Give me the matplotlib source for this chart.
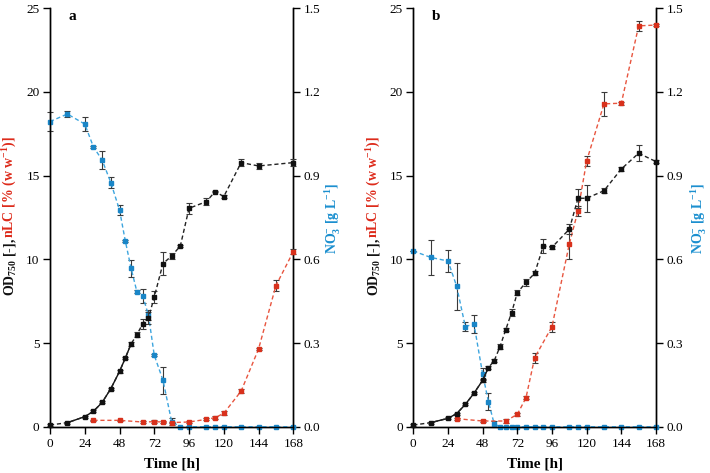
import matplotlib
matplotlib.use("Agg")
import matplotlib.pyplot as plt
import numpy as np

plt.rcParams['font.family'] = ['Liberation Serif', 'DejaVu Serif']
plt.rcParams['mathtext.fontset'] = 'custom'
plt.rcParams['mathtext.rm'] = 'Liberation Serif'
plt.rcParams['mathtext.bf'] = 'Liberation Serif:bold'
plt.rcParams['mathtext.it'] = 'Liberation Serif:italic'

# ---------------- Panel a data ----------------
a_od_t = [0, 12, 24, 30, 36, 42, 48, 52, 56, 60, 64, 68, 72, 78, 84, 90, 96, 108, 114, 120, 132, 144, 168]
a_od = [0.1, 0.24, 0.6, 0.92, 1.45, 2.27, 3.3, 4.1, 4.95, 5.5, 6.15, 6.5, 7.75, 9.75, 10.2, 10.8, 13.05, 13.45, 14.05, 13.75, 15.78, 15.58, 15.78]
a_od_err = [0.05, 0.05, 0.06, 0.06, 0.06, 0.06, 0.08, 0.08, 0.1, 0.15, 0.3, 0.35, 0.38, 0.67, 0.15, 0.05, 0.34, 0.2, 0.05, 0.1, 0.2, 0.2, 0.2]

a_lc_t = [30, 48, 64, 72, 78, 84, 96, 108, 114, 120, 132, 144, 156, 168]
a_lc = [0.38, 0.38, 0.28, 0.3, 0.28, 0.25, 0.28, 0.44, 0.54, 0.8, 2.13, 4.64, 8.43, 10.46]
a_lc_err = [0.05, 0.05, 0.05, 0.1, 0.05, 0.05, 0.05, 0.05, 0.08, 0.12, 0.1, 0.08, 0.35, 0.15]

a_no3_t = [0, 12, 24, 30, 36, 42, 48, 52, 56, 60, 64, 68, 72, 78, 84, 90, 96, 108, 114, 120, 132, 144, 156, 168]
a_no3 = [1.094, 1.121, 1.085, 1.003, 0.956, 0.875, 0.777, 0.666, 0.568, 0.484, 0.470, 0.399, 0.256, 0.167, 0.018,
         0.0, 0.0, 0.0, 0.0, 0.0, 0.0, 0.0, 0.0, 0.0]
a_no3_err = [0.033, 0.012, 0.025, 0.004, 0.031, 0.021, 0.018, 0.004, 0.03, 0.006, 0.025, 0.018, 0.004, 0.048, 0.012,
             0.0, 0.0, 0.0, 0.0, 0.0, 0.0, 0.0, 0.0, 0.0]

# ---------------- Panel b data ----------------
b_od_t = [0, 12, 24, 30, 36, 42, 48, 52, 56, 60, 64, 68, 72, 78, 84, 90, 96, 108, 114, 120, 132, 144, 156, 168]
b_od = [0.1, 0.24, 0.5, 0.78, 1.33, 2.0, 2.77, 3.53, 3.94, 4.78, 5.8, 6.81, 8.0, 8.63, 9.16, 10.8, 10.72, 11.8, 13.65, 13.65, 14.1, 15.4, 16.34, 15.84]
b_od_err = [0.05, 0.05, 0.05, 0.06, 0.06, 0.06, 0.1, 0.08, 0.08, 0.15, 0.1, 0.2, 0.15, 0.2, 0.12, 0.4, 0.1, 0.3, 0.57, 0.82, 0.15, 0.1, 0.48, 0.1]

b_lc_t = [30, 48, 64, 72, 78, 84, 96, 108, 114, 120, 132, 144, 156, 168]
b_lc = [0.48, 0.34, 0.34, 0.74, 1.73, 4.12, 5.98, 10.92, 12.9, 15.88, 19.29, 19.33, 23.95, 24.0]
b_lc_err = [0.05, 0.08, 0.1, 0.08, 0.1, 0.3, 0.3, 0.92, 0.3, 0.3, 0.7, 0.08, 0.3, 0.05]

b_no3_t = [0, 12, 24, 30, 36, 42, 48, 52, 56, 60, 64, 68, 72, 78, 84, 90, 96, 108, 114, 120, 132, 144, 156, 168]
b_no3 = [0.63, 0.607, 0.594, 0.504, 0.359, 0.368, 0.189, 0.09, 0.01,
         0.0, 0.0, 0.0, 0.0, 0.0, 0.0, 0.0, 0.0, 0.0, 0.0, 0.0, 0.0, 0.0, 0.0, 0.0]
b_no3_err = [0.0, 0.063, 0.038, 0.084, 0.015, 0.031, 0.021, 0.03, 0.012,
             0.0, 0.0, 0.0, 0.0, 0.0, 0.0, 0.0, 0.0, 0.0, 0.0, 0.0, 0.0, 0.0, 0.0, 0.0]

x_ticks = [0, 24, 48, 72, 96, 120, 144, 168]
left_ticks = [0, 5, 10, 15, 20, 25]
right_ticks = [0.0, 0.3, 0.6, 0.9, 1.2, 1.5]

BLACK = '#111111'
RED_M = '#d8311c'
RED_L = '#e8553f'
BLUE_M = '#1a86c7'
BLUE_L = '#3da5de'
ECOL = '#3a3a3a'
RED_T = '#dd2a1a'
BLUE_T = '#1b8fcf'

fig = plt.figure(figsize=(7.10, 4.73), dpi=100)

def series(ax, t, y, err, lcol, mcol, zorder=3):
    ax.errorbar(t, y, yerr=err, fmt='none', ecolor=ECOL, elinewidth=0.8,
                capsize=2.4, capthick=0.8, zorder=zorder, clip_on=False)
    ax.plot(t, y, ls=(0, (3, 2)), lw=1.0, color=lcol, marker='s', ms=3.4,
            mfc=mcol, mec=mcol, zorder=zorder + 0.5, clip_on=False)

def panel(rect, od_t, od, od_err, lc_t, lc, lc_err, n_t, n, n_err, solid_rng, letter):
    ax = fig.add_axes(rect)
    ax2 = ax.twinx()
    ax.set_zorder(ax2.get_zorder() + 1)
    ax.patch.set_visible(False)

    series(ax2, n_t, n, n_err, BLUE_L, BLUE_M)
    series(ax, lc_t, lc, lc_err, RED_L, RED_M)
    series(ax, od_t, od, od_err, '#222222', BLACK, zorder=4)
    # solid segment of the growth curve
    ts = [t for t in od_t if solid_rng[0] <= t <= solid_rng[1]]
    ys = [v for t, v in zip(od_t, od) if solid_rng[0] <= t <= solid_rng[1]]
    ax.plot(ts, ys, ls='-', lw=1.0, color=BLACK, zorder=4.2)

    ax.set_xlim(0, 168)
    ax.set_ylim(0, 25)
    ax2.set_ylim(0, 1.5)
    ax.set_xticks(x_ticks)
    ax.set_yticks(left_ticks)
    ax2.set_yticks(right_ticks)
    ax2.set_yticklabels([f'{v:.1f}' for v in right_ticks])
    for a in (ax, ax2):
        a.spines['top'].set_visible(False)
        for s in a.spines.values():
            s.set_linewidth(1.0)
        a.tick_params(direction='out', length=5, width=1.0, labelsize=9.5, pad=2.5)
    ax.tick_params(axis='x', pad=3)
    ax.text(0.075, 0.995, letter, transform=ax.transAxes, fontsize=11,
            fontweight='bold', va='top', ha='left')
    return ax, ax2

W, H = 710.0, 473.0
bottom = (H - 426.7) / H
height = (426.7 - 8.3) / H
axa = panel([50 / W, bottom, 243.3 / W, height], a_od_t, a_od, a_od_err, a_lc_t, a_lc, a_lc_err,
            a_no3_t, a_no3, a_no3_err, (12, 56), 'a')
axb = panel([413.3 / W, bottom, 242.7 / W, height], b_od_t, b_od, b_od_err, b_lc_t, b_lc, b_lc_err,
            b_no3_t, b_no3, b_no3_err, (12, 52), 'b')

# x labels
for cx in (171.7, 534.7):
    fig.text(cx / W, 1 - 464 / H, 'Time [h]', fontsize=11, fontweight='bold',
             ha='center', va='center')

renderer = fig.canvas.get_renderer()

def vlabel(xpx, ycpx, pieces, fs):
    texts = []
    for s, c in pieces:
        t = fig.text(0, 0, s, color=c, fontsize=fs, fontweight='bold', rotation=90,
                     rotation_mode='anchor', ha='left', va='baseline')
        texts.append(t)
    lens = [t.get_window_extent(renderer).height for t in texts]
    total = sum(lens)
    y = ycpx - total / 2.0
    for t, L in zip(texts, lens):
        t.set_position((xpx / W, y / H))
        y += L

left_pieces = [(r'OD$_{\mathbf{750}}$ [-], ', BLACK),
               (r'nLC [% (w w$^{\mathbf{-1}}$)]', RED_T)]
right_pieces = [(r'NO$_{\mathbf{3}}^{\mathbf{-}}$ [g L$^{\mathbf{-1}}$]', BLUE_T)]

vlabel(13.5, H - 216, left_pieces, 10)
vlabel(377.5, H - 216, left_pieces, 10)
vlabel(337.5, H - 218, right_pieces, 10)
vlabel(703.5, H - 218, right_pieces, 10)

fig.savefig('out.png', dpi=100)
